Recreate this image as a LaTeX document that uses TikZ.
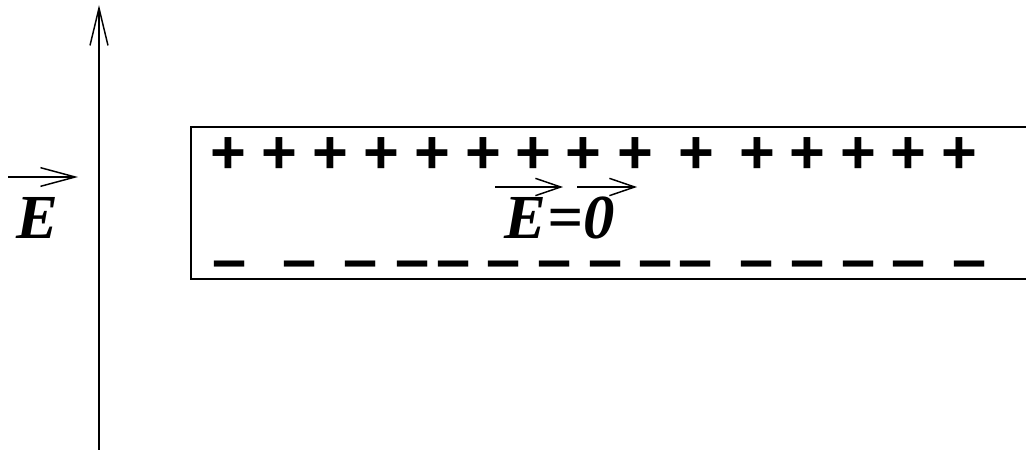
\documentclass[tikz,border=0pt]{standalone}
\usepackage{fontspec}
\setmainfont{Liberation Serif}
\newfontfamily\signfont{Liberation Sans}
\usetikzlibrary{arrows.meta}
\begin{document}
\begin{tikzpicture}[x=0.75pt,y=-0.75pt,
  sign/.style={font=\signfont\bfseries\fontsize{46}{48}\selectfont, inner sep=0pt},
  lbl/.style={font=\bfseries\itshape\fontsize{47}{52}\selectfont, inner sep=0pt, anchor=base west},
  vecarrow/.style={line width=1.1pt, -{Straight Barb[length=19pt,width=13pt]}},
  plate/.style={line width=1.5pt},
]
\useasboundingbox (0,0) rectangle (1026,450);
% conductor slab (right edge outside the picture)
\draw[plate] (1026,127) -| (191,279) -- (1026,279);
% positive charges
\foreach \x [count=\i] in {228,279,330,381,432,483,533,583,635,696,757,807,858,908,959}
  \node[sign] (p\i) at (\x,156) {+};
% negative charges
\foreach \x [count=\i] in {230,300,361,413,454,504,555,606,656,696,757,808,859,909,970}
  \node[sign] (m\i) at (\x,271) {–};
% external field axis
\coordinate (axb) at (99,450);
\coordinate (axt) at (99,5);
\draw[line width=1.1pt, -{Straight Barb[length=28pt,width=13.5pt]}] (axb) -- (axt);
% label E outside
\node[lbl] (eout) at (16,238) {E};
\coordinate (eoa) at (8,177);
\coordinate (eob) at (78,177);
\draw[line width=1.1pt, -{Straight Barb[length=26pt,width=14pt]}] (eoa) -- (eob);
% label E = 0 inside
\node[lbl] (ein) at (504,238) {E\kern1pt=0};
\coordinate (e1a) at (495,187);
\coordinate (e1b) at (563,187);
\coordinate (e2a) at (577,187);
\coordinate (e2b) at (637,187);
\draw[vecarrow] (e1a) -- (e1b);
\draw[vecarrow] (e2a) -- (e2b);
\end{tikzpicture}
\end{document}
